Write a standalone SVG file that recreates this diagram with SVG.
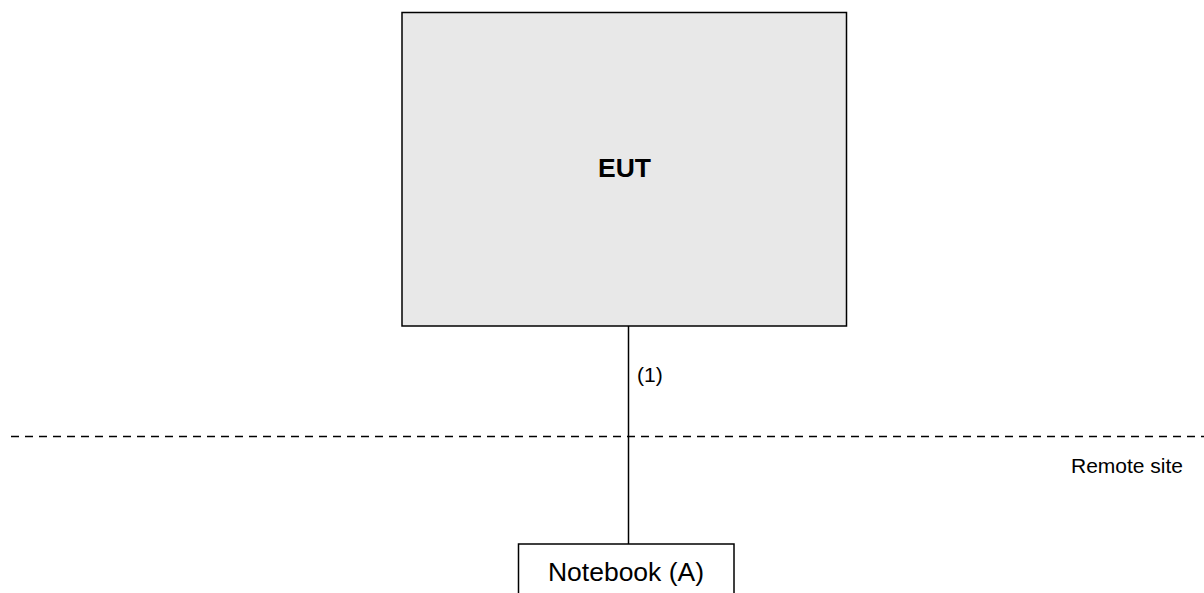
<svg xmlns="http://www.w3.org/2000/svg" width="1204" height="593" viewBox="0 0 1204 593">
<style>
.box{stroke:#000;stroke-width:1.5}
.t{font-family:"Liberation Sans",Arial,sans-serif;fill:#000}
</style>
<rect width="1204" height="593" fill="#fff"/>
<g id="connectors">
<line x1="11" y1="436.5" x2="1204" y2="436.5" stroke="#000" stroke-width="1.3" stroke-dasharray="8,6"/>
<line x1="628.5" y1="326" x2="628.5" y2="544" stroke="#000" stroke-width="1.5"/>
<text class="t" x="637" y="382" font-size="21">(1)</text>
<text class="t" x="1071" y="473" font-size="21">Remote site</text>
</g>
<g id="eut">
<rect class="box" x="402" y="12.5" width="444.5" height="313.5" fill="#e8e8e8"/>
<text class="t" x="624.5" y="177" font-size="26.5" font-weight="bold" text-anchor="middle">EUT</text>
</g>
<g id="notebook">
<rect class="box" x="518.5" y="544" width="215.5" height="60" fill="#fff"/>
<text class="t" x="626" y="581" font-size="26.5" text-anchor="middle">Notebook (A)</text>
</g>
</svg>
